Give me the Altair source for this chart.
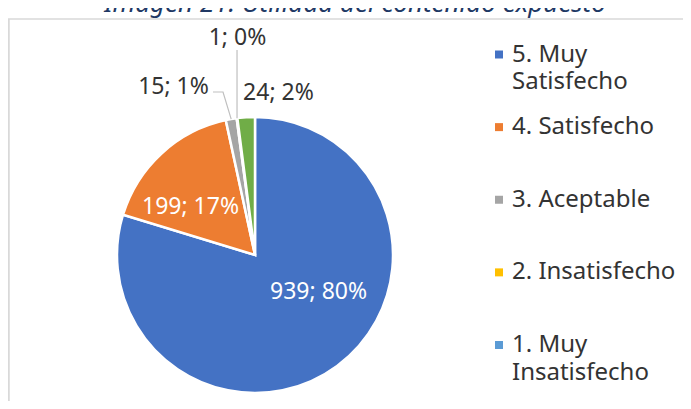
import math
import altair as alt
import pandas as pd

# ---- data ----
categories = ["5. Muy Satisfecho", "4. Satisfecho", "3. Aceptable",
              "2. Insatisfecho", "1. Muy Insatisfecho", "Otro"]
values = [939, 199, 15, 1, 0, 24]
colors = ["#4472C4", "#ED7D31", "#A5A5A5", "#FFC000", "#5B9BD5", "#70AD47"]
legend_labels = ["5. Muy\nSatisfecho", "4. Satisfecho", "3. Aceptable",
                 "2. Insatisfecho", "1. Muy\nInsatisfecho"]
title_text = "Imagen 21. Utilidad del contenido expuesto"

# ---- layout / style ----
W, H = 675, 393
CX, CY, R = 247, 247, 138
FONT = "Noto Sans"
TXT = "#333333"

total = sum(values)
rows = []
cum = 0
for c, v in zip(categories, values):
    rows.append(dict(category=c, value=v, start=cum, end=cum + v, mid=cum + v / 2,
                     label=f"{v}; {round(100 * v / total)}%"))
    cum += v
df = pd.DataFrame(rows)

theta_scale = alt.Scale(domain=[0, total], range=[0, 2 * math.pi])
color_scale = alt.Scale(domain=categories, range=colors)

arcs = alt.Chart(df).transform_filter("datum.value > 0").mark_arc(
    radius=R, stroke="white", strokeWidth=2.5
).encode(
    theta=alt.Theta("start:Q", scale=theta_scale),
    theta2="end:Q",
    color=alt.Color("category:N", scale=color_scale, legend=None),
    x=alt.value(CX), y=alt.value(CY),
)

label_style = {
    "5. Muy Satisfecho": dict(radius=74, dx=19.5, dy=-22, color="white"),
    "4. Satisfecho": dict(radius=80, dx=-10.3, dy=10.4, color="white"),
    "3. Aceptable": dict(radius=175, dx=-51.3, dy=3.9, color=TXT),
    "2. Insatisfecho": dict(radius=215, dx=10.5, dy=-3.8, color=TXT),
    "Otro": dict(radius=160, dx=33.7, dy=-2.3, color=TXT),
}

def polar(r, frac):
    a = 2 * math.pi * frac
    return CX + r * math.sin(a), CY - r * math.cos(a)

label_layers = []
centers = {}
for cat, st in label_style.items():
    row = df[df.category == cat].iloc[0]
    px, py = polar(st["radius"], row["mid"] / total)
    centers[cat] = (px + st["dx"], py + st["dy"])
    label_layers.append(
        alt.Chart(df).transform_filter(alt.datum.category == cat).mark_text(
            radius=st["radius"], dx=st["dx"], dy=st["dy"], color=st["color"],
            font=FONT, fontSize=23, align="center", baseline="middle"
        ).encode(
            theta=alt.Theta("mid:Q", scale=theta_scale),
            text="label:N",
            x=alt.value(CX), y=alt.value(CY),
        )
    )

# leader lines from label to slice edge (slice edge from the data's mid angle)
lead = []
g = df[df.category == "3. Aceptable"].iloc[0]
ex, ey = polar(R, g["mid"] / total)
lx, ly = centers["3. Aceptable"]
for i, (x, y) in enumerate([(lx + 39.5, ly + 5.5), (lx + 49.5, ly + 5.5), (ex, ey)]):
    lead.append(dict(category="3. Aceptable", idx=i, x=x, y=y))
yv = df[df.category == "2. Insatisfecho"].iloc[0]
ex, ey = polar(R, yv["mid"] / total)
lx, ly = centers["2. Insatisfecho"]
for i, (x, y) in enumerate([(ex, ly + 12), (ex, ey)]):
    lead.append(dict(category="2. Insatisfecho", idx=i, x=x, y=y))
lead_df = pd.DataFrame(lead)

leaders = alt.Chart(lead_df).mark_line(color="#BFBFBF", strokeWidth=1.2).encode(
    x=alt.X("x:Q", scale=None, axis=None),
    y=alt.Y("y:Q", scale=None, axis=None),
    detail="category:N",
    order="idx:Q",
)

# manual legend (only five entries shown, as in the reference)
leg_df = pd.DataFrame({"category": categories[:5], "text": legend_labels})
leg_y = alt.Y("category:N", scale=alt.Scale(type="point", domain=categories[:5],
                                             range=[46.5, 337], padding=0), axis=None)
leg_sym = alt.Chart(leg_df).mark_square(size=64, opacity=1).encode(
    x=alt.value(491), y=leg_y,
    color=alt.Color("category:N", scale=color_scale, legend=None),
)
leg_txt = alt.Chart(leg_df).mark_text(
    font=FONT, fontSize=24, color=TXT, align="left", baseline="top", dy=-12,
    lineBreak="\n", lineHeight=27.5
).encode(x=alt.value(504), y=leg_y, text="text:N")

# frame and (cut-off) title
one = pd.DataFrame({"t": [title_text]})
frame_top = alt.Chart(one).mark_rule(color="#D9D9D9", strokeWidth=1.5).encode(
    x=alt.value(0), x2=alt.value(W), y=alt.value(11))
frame_left = alt.Chart(one).mark_rule(color="#D9D9D9", strokeWidth=2).encode(
    x=alt.value(0.75), y=alt.value(11), y2=alt.value(H))
title = alt.Chart(one).mark_text(font=FONT, fontSize=26, fontStyle="italic",
                                 color="#203864", align="center",
                                 baseline="alphabetic").encode(
    x=alt.value(347), y=alt.value(4), text="t:N")

chart = alt.layer(
    frame_top, frame_left, title, arcs, *label_layers, leaders, leg_sym, leg_txt
).resolve_scale(x="independent", y="independent").properties(
    width=W, height=H, autosize=alt.AutoSizeParams(type="none"), padding=0,
    background="white"
).configure_view(stroke=None)

chart.save("out.html", embed_options={"renderer": "svg", "actions": False})
